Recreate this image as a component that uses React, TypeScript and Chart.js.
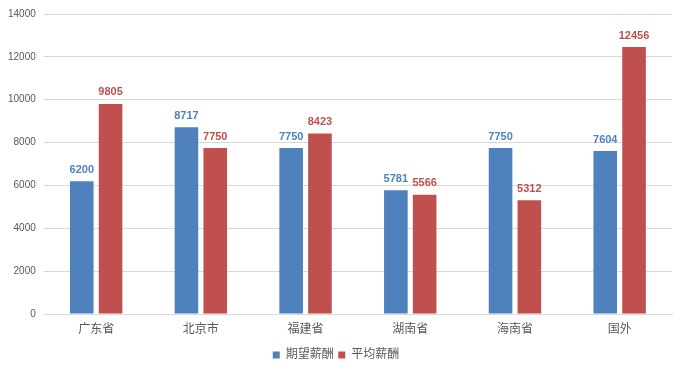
import React, { useEffect, useRef } from "react";
import { Chart, registerables } from "chart.js";

Chart.register(...registerables);

const categories = ["广东省", "北京市", "福建省", "湖南省", "海南省", "国外"];
const expectedSalary = [6200, 8717, 7750, 5781, 7750, 7604];
const averageSalary = [9805, 7750, 8423, 5566, 5312, 12456];
const seriesNames = ["期望薪酬", "平均薪酬"];
const yTicks = [0, 2000, 4000, 6000, 8000, 10000, 12000, 14000];

const BLUE = "#4F81BD";
const RED = "#C0504D";
const FONT = '"Liberation Sans", "Noto Sans CJK SC", sans-serif';

const dataLabels = {
  id: "dataLabels",
  afterDatasetsDraw(chart: any) {
    const ctx = chart.ctx;
    ctx.save();
    chart.data.datasets.forEach((ds: any, i: number) => {
      const meta = chart.getDatasetMeta(i);
      meta.data.forEach((bar: any, j: number) => {
        ctx.font = `bold 11px ${FONT}`;
        ctx.fillStyle = ds.backgroundColor;
        ctx.textAlign = "center";
        ctx.textBaseline = "bottom";
        ctx.fillText(String(ds.data[j]), bar.x, bar.y - 6);
      });
    });
    ctx.restore();
  },
};

export default function App() {
  const ref = useRef<HTMLCanvasElement>(null);
  useEffect(() => {
    document.body.style.margin = "0";
    const chart = new Chart(ref.current!, {
      type: "bar",
      data: {
        labels: categories,
        datasets: [
          { label: seriesNames[0], data: expectedSalary, backgroundColor: BLUE, categoryPercentage: 0.55, barPercentage: 0.82 },
          { label: seriesNames[1], data: averageSalary, backgroundColor: RED, categoryPercentage: 0.55, barPercentage: 0.82 },
        ],
      },
      options: {
        animation: false,
        responsive: false,
        maintainAspectRatio: false,
        layout: { padding: { top: 2, right: 8, left: 0, bottom: 0 } },
        plugins: {
          legend: {
            position: "bottom",
            labels: { boxWidth: 7, boxHeight: 7, color: "#595959", font: { size: 12, family: FONT }, padding: 4.5 },
          },
          tooltip: { enabled: false },
        },
        scales: {
          x: {
            grid: { display: false, drawTicks: false },
            border: { color: "#D9D9D9" },
            ticks: { color: "#595959", font: { size: 12, family: FONT }, padding: 8 },
          },
          y: {
            min: 0,
            max: 14000,
            afterBuildTicks: (axis: any) => {
              axis.ticks = yTicks.map((v) => ({ value: v }));
            },
            grid: { color: "#D9D9D9", drawTicks: false },
            border: { display: false },
            ticks: {
              color: "#595959",
              font: { size: 10, family: FONT },
              padding: 8,
              callback: (v: any) => String(v),
            },
          },
        },
      },
      plugins: [dataLabels],
    });
    return () => chart.destroy();
  }, []);
  return (
    <div style={{ position: "absolute", left: 0, top: 0, width: 680, height: 371 }}>
      <canvas ref={ref} width={680} height={371} />
    </div>
  );
}
